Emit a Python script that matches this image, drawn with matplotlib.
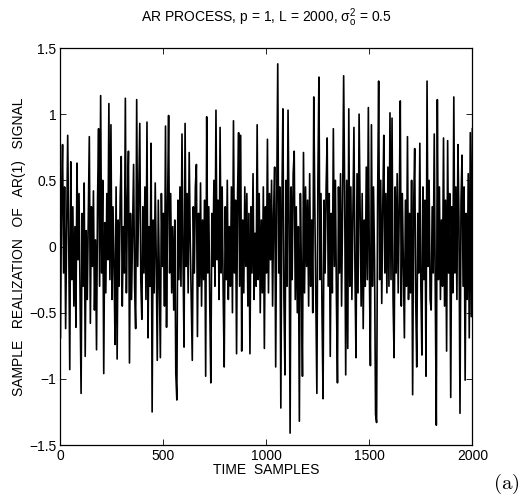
import numpy as np
import matplotlib
matplotlib.use("Agg")
import matplotlib.pyplot as plt

plt.rcParams['font.family'] = ['Liberation Sans', 'DejaVu Sans']
plt.rcParams['mathtext.fontset'] = 'custom'
plt.rcParams['mathtext.rm'] = 'Liberation Sans'
plt.rcParams['mathtext.it'] = 'Liberation Sans:italic'

# AR(1) realization, every 5th sample
signal = [
    -0.69, 0.35, 0.77, -0.20, 0.45, -0.62, 0.10, 0.84, 0.05, -0.93,
    0.64, -0.25, 0.30, -0.45, 0.15, -0.61, 0.63, -0.10, 0.40, -0.35,
    -1.11, 0.25, -0.30, 0.48, -0.83, 0.12, -0.40, 0.20, 0.83, -0.58,
    0.30, -0.15, 0.42, -0.48, 0.05, -0.78, 0.35, 0.89, -0.30, 1.14,
    -0.20, 0.50, -0.96, 0.18, -0.35, 0.40, -0.10, 1.08, -0.25, 0.92,
    -0.40, 0.30, -0.15, -0.74, 0.45, -0.85, 0.20, -0.30, 0.38, 0.68,
    -0.45, 0.15, -0.20, 1.12, -0.35, 0.30, 0.72, -0.88, 0.25, -0.40,
    0.10, 0.62, -0.30, -0.62, 1.11, -0.15, 0.40, 0.93, -0.25, -0.55,
    0.30, -0.20, 0.45, -0.40, 0.94, -0.69, 0.15, -0.30, 0.78, -1.25,
    0.20, -0.35, 0.48, -0.10, -0.86, 0.35, -0.25, -0.84, 0.40, -0.15,
    0.25, -0.45, 0.91, -0.61, 0.30, 0.99, -0.20, 0.40, -0.35, 0.15,
    -0.48, 0.20, -0.96, -1.16, 0.35, -0.25, 0.45, -0.30, 0.85, -0.10,
    -0.76, 0.93, -0.15, 0.40, -0.35, 0.71, 0.05, -0.40, -0.86, 0.30,
    -0.20, 0.45, 0.62, -0.68, 0.25, -0.30, 0.48, -0.45, 0.20, -0.25,
    0.35, -0.98, 0.98, -0.20, 0.30, -0.45, -1.03, 0.25, -0.15, 0.50,
    -0.30, 1.03, -0.10, 0.35, -0.40, 0.90, -0.20, 0.45, -0.35, -0.91,
    0.30, -0.25, 0.50, -0.40, 0.15, -0.30, 0.45, -0.50, 0.95, -0.20,
    0.35, -0.81, 0.40, 0.86, -0.30, 0.84, -0.79, 0.20, -0.35, 0.45,
    -0.15, 0.40, -0.45, 0.25, -0.81, 0.30, -0.20, 0.55, -0.40, 0.10,
    -0.30, 0.92, -0.25, 0.40, -0.50, 0.20, -0.35, 0.45, -0.77, 0.30,
    -0.20, 0.81, -0.35, 0.40, -0.10, 0.50, -0.45, 0.25, 0.60, -0.91,
    0.35, 1.38, -0.20, 0.45, -1.22, 0.30, 1.04, -0.40, -0.97, 0.50,
    -0.30, 1.03, 0.20, -1.41, 0.45, -0.25, 0.55, 0.72, -0.40, 0.30,
    -0.50, 0.15, -1.32, 0.40, -0.20, -0.98, 0.71, -0.35, 0.45, -0.15,
    0.35, -0.45, 0.55, -0.30, 0.20, -0.50, 1.13, 0.30, -0.40, -1.11,
    0.50, 1.28, -0.25, 0.40, -0.50, -1.15, 0.35, -0.20, 0.45, 0.82,
    -0.30, 0.40, -0.83, 0.25, -0.35, 0.89, -0.15, 0.50, -0.40, -1.03,
    0.45, -0.20, 0.55, -0.45, 0.30, 1.29, 0.40, -0.97, 0.50, -0.77,
    1.04, -0.30, 0.45, -0.40, 0.25, 0.90, -0.20, -0.84, 0.55, -0.35,
    1.00, 0.30, -0.45, 0.40, -0.62, 0.20, -0.30, 0.60, -0.25, 1.05,
    -0.20, -0.90, 0.92, -0.30, 0.45, -0.10, -1.27, -1.33, 0.35, 1.25,
    -0.25, 0.50, -0.43, 0.30, 0.84, -0.20, 0.40, -0.35, 0.60, -0.30,
    1.01, -0.25, 0.97, -0.40, -0.84, 0.45, -0.20, 0.55, -0.35, 0.30,
    1.10, -0.45, 0.40, -0.15, -0.69, 0.35, -0.30, 0.83, -0.40, 0.25,
    -0.35, 0.50, -1.12, 0.30, 0.74, -0.40, -0.91, 0.25, -0.20, 0.78,
    -0.30, -0.82, 0.45, -0.25, 0.35, -0.98, 1.25, -0.15, 0.50, -0.40,
    -0.48, 0.30, -0.20, 0.85, -0.35, -1.35, 1.11, -0.25, 0.45, -0.40,
    0.20, -0.30, 0.82, -0.45, 0.35, -0.79, 0.80, -0.20, 0.40, -1.14,
    0.30, -0.35, 1.13, -0.20, 0.45, -0.40, 0.77, 0.20, -1.26, 0.35,
    0.69, -0.30, 0.45, -1.01, 0.25, -0.40, 0.55, -0.69, 0.86, -0.53,
    0.89,
]
step = 5
samples = np.arange(len(signal)) * step

xticks = [0, 500, 1000, 1500, 2000]
yticks = [-1.5, -1, -0.5, 0, 0.5, 1, 1.5]
ytick_labels = ['\u22121.5', '\u22121', '\u22120.5', '0', '0.5', '1', '1.5']

fig = plt.figure(figsize=(5.26, 4.98), dpi=100)
ax = fig.add_axes([0.115, 0.1064, 0.783, 0.7972])
ax.plot(samples, signal, color='black', linewidth=1.2)

ax.set_xlim(0, 2000)
ax.set_ylim(-1.5, 1.5)
ax.set_xticks(xticks)
ax.set_xticklabels([str(t) for t in xticks])
ax.set_yticks(yticks)
ax.set_yticklabels(ytick_labels)
ax.tick_params(direction='in', top=True, right=True, length=4, width=0.6,
               labelsize=10, pad=3)
for s in ax.spines.values():
    s.set_linewidth(0.9)

ax.set_title(r'AR PROCESS, p = 1, L = 2000, $\mathrm{\sigma}_{\mathrm{o}}^{2}$ = 0.5',
             fontsize=10, pad=19)
ax.set_xlabel('TIME  SAMPLES', fontsize=10, labelpad=0)
ax.set_ylabel('SAMPLE   REALIZATION   OF   AR(1)   SIGNAL', fontsize=10,
              labelpad=2)

fig.text(0.962, 0.005, r'$\mathrm{(a)}$', fontsize=15, ha='center',
         va='bottom', math_fontfamily='cm')

fig.savefig('out.png', dpi=100)
